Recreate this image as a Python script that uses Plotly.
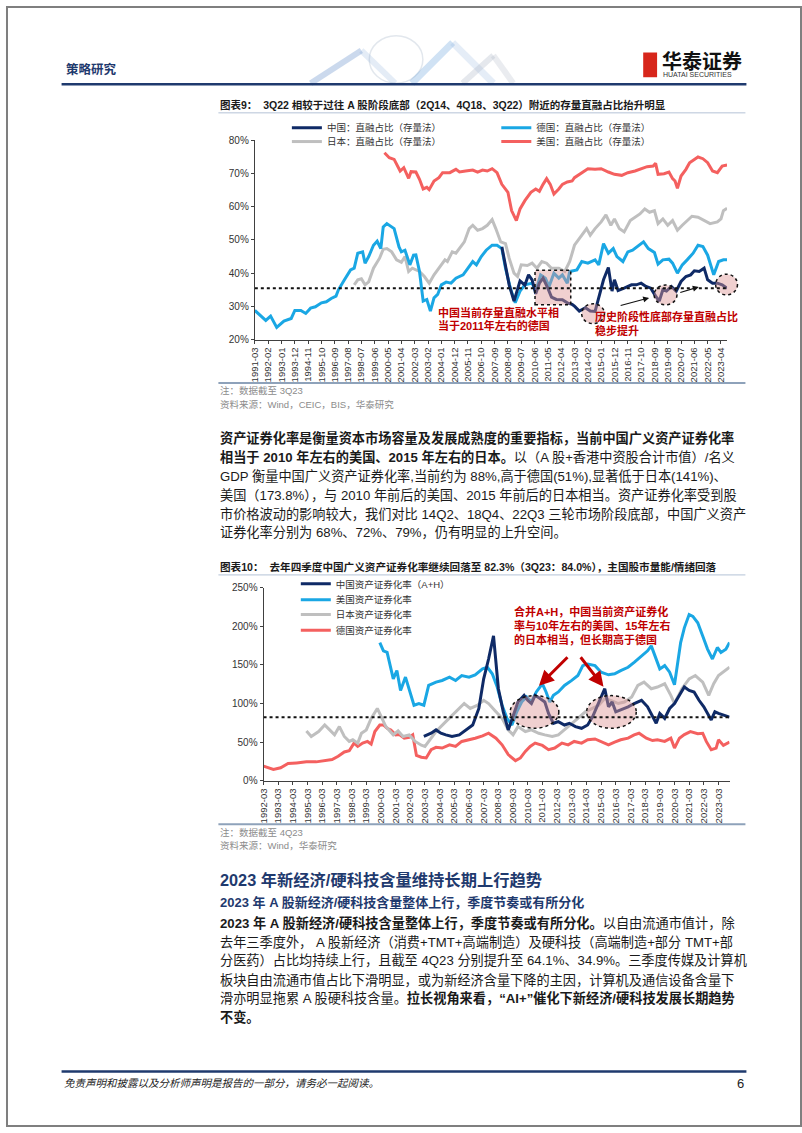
import plotly.graph_objects as go

W, H = 802, 1133
FONT = "Liberation Sans, Noto Sans CJK SC, sans-serif"

# ---------------- 图表9: 直融占比（存量法）, % ----------------
CN_DIRECT = [("2008-03", 47.9), ("2008-06", 42.5), ("2008-09", 36.5), ("2009-01", 31.6), ("2009-04", 35.0),
             ("2009-06", 37.7), ("2009-10", 36.4), ("2010-01", 39.5), ("2010-04", 38.0), ("2010-07", 33.8),
             ("2010-10", 37.0), ("2011-01", 38.5), ("2011-05", 35.5), ("2011-08", 32.8), ("2011-12", 32.1),
             ("2012-05", 32.0), ("2012-09", 31.1), ("2013-01", 30.6), ("2013-03", 30.1), ("2013-07", 28.6),
             ("2013-12", 29.6), ("2014-04", 28.6), ("2014-08", 28.5), ("2014-12", 33.6), ("2015-03", 38.0),
             ("2015-07", 41.7), ("2015-10", 34.6), ("2015-12", 38.0), ("2016-03", 34.8), ("2016-08", 35.5),
             ("2017-02", 36.5), ("2017-06", 36.5), ("2017-10", 37.0), ("2018-02", 36.0), ("2018-06", 35.5),
             ("2018-10", 33.1), ("2019-01", 31.6), ("2019-04", 35.0), ("2019-07", 34.6), ("2019-11", 36.0),
             ("2020-03", 34.6), ("2020-07", 37.5), ("2020-11", 39.0), ("2021-03", 39.5), ("2021-06", 40.7),
             ("2021-10", 40.5), ("2022-02", 41.5), ("2022-05", 38.0), ("2022-09", 37.0), ("2023-01", 37.0),
             ("2023-05", 36.5), ("2023-09", 35.5)]
DE_DIRECT = [("1991-03", 28.8), ("1991-12", 25.8), ("1992-04", 27.1), ("1992-09", 23.7), ("1993-03", 25.6),
             ("1993-09", 26.4), ("1993-12", 28.8), ("1994-05", 28.8), ("1994-09", 27.9), ("1995-01", 29.5),
             ("1995-05", 29.9), ("1995-10", 31.1), ("1996-02", 31.4), ("1996-06", 32.4), ("1996-10", 33.1),
             ("1996-12", 35.0), ("1997-05", 38.0), ("1997-10", 41.0), ("1998-01", 41.5), ("1998-04", 46.0),
             ("1998-08", 46.4), ("1998-10", 43.0), ("1999-01", 45.0), ("1999-05", 48.4), ("1999-08", 49.6),
             ("1999-11", 47.4), ("2000-01", 53.9), ("2000-04", 54.9), ("2000-10", 53.4), ("2001-02", 47.9),
             ("2001-04", 46.4), ("2001-07", 46.9), ("2001-11", 42.5), ("2002-02", 45.4), ("2002-04", 45.5),
             ("2002-07", 40.5), ("2002-10", 31.6), ("2003-01", 32.1), ("2003-04", 28.6), ("2003-07", 32.6),
             ("2003-10", 33.6), ("2004-01", 36.5), ("2004-05", 37.3), ("2004-09", 37.0), ("2005-01", 38.5),
             ("2005-07", 39.5), ("2005-11", 41.5), ("2006-03", 43.5), ("2006-06", 42.5), ("2006-10", 45.0),
             ("2007-02", 46.9), ("2007-07", 48.4), ("2007-11", 48.4), ("2008-03", 47.4), ("2008-06", 41.5),
             ("2008-10", 35.5), ("2009-02", 31.1), ("2009-06", 34.6), ("2009-10", 36.5), ("2010-04", 37.0),
             ("2010-07", 34.6), ("2010-11", 39.5), ("2011-03", 38.5), ("2011-06", 36.0), ("2011-10", 40.0),
             ("2012-02", 38.5), ("2012-05", 39.5), ("2012-09", 37.0), ("2012-11", 40.5), ("2013-05", 41.0),
             ("2013-09", 43.5), ("2014-02", 43.0), ("2014-08", 44.0), ("2014-11", 42.5), ("2015-03", 48.9),
             ("2015-07", 46.0), ("2015-11", 47.4), ("2016-02", 45.0), ("2016-07", 43.5), ("2016-11", 46.4),
             ("2017-03", 46.9), ("2017-09", 48.4), ("2017-12", 49.4), ("2018-04", 47.4), ("2018-09", 46.2),
             ("2018-12", 42.7), ("2019-04", 44.0), ("2019-09", 44.2), ("2019-12", 43.0), ("2020-04", 40.0),
             ("2020-08", 42.5), ("2020-12", 44.0), ("2021-05", 46.0), ("2021-09", 48.4), ("2022-01", 48.0),
             ("2022-05", 45.4), ("2022-10", 39.5), ("2023-02", 43.5), ("2023-06", 44.0), ("2023-09", 44.0)]
JP_DIRECT = [("1998-01", 36.5), ("1998-04", 38.0), ("1998-07", 38.3), ("1998-10", 36.5), ("1999-01", 37.4),
             ("1999-05", 41.5), ("1999-10", 44.5), ("2000-01", 47.2), ("2000-04", 47.4), ("2000-08", 46.4),
             ("2000-12", 44.0), ("2001-04", 43.3), ("2001-07", 45.0), ("2001-10", 40.5), ("2002-01", 41.5),
             ("2002-07", 40.5), ("2002-11", 39.0), ("2003-03", 37.0), ("2003-07", 39.5), ("2003-11", 41.5),
             ("2004-04", 44.0), ("2004-06", 43.5), ("2004-10", 46.4), ("2005-01", 46.0), ("2005-05", 48.0),
             ("2005-08", 49.4), ("2005-12", 53.4), ("2006-03", 54.4), ("2006-07", 52.9), ("2006-11", 53.4),
             ("2007-03", 54.4), ("2007-07", 56.1), ("2007-10", 53.4), ("2008-02", 49.4), ("2008-06", 48.9),
             ("2008-09", 44.5), ("2009-01", 40.0), ("2009-04", 39.0), ("2009-07", 42.5), ("2009-12", 42.3),
             ("2010-04", 43.0), ("2010-08", 41.5), ("2010-12", 43.5), ("2011-04", 43.0), ("2011-08", 41.5),
             ("2012-02", 41.5), ("2012-07", 40.5), ("2012-11", 43.5), ("2013-03", 48.4), ("2013-09", 51.4),
             ("2014-01", 53.4), ("2014-04", 51.4), ("2014-08", 53.4), ("2015-01", 55.4), ("2015-05", 57.5),
             ("2015-09", 54.4), ("2015-12", 56.3), ("2016-04", 53.4), ("2016-08", 52.4), ("2017-01", 55.8),
             ("2017-05", 56.8), ("2017-09", 57.8), ("2018-01", 59.3), ("2018-05", 58.3), ("2018-09", 58.8),
             ("2018-12", 54.9), ("2019-04", 56.3), ("2019-08", 54.4), ("2019-12", 55.8), ("2020-04", 52.9),
             ("2020-08", 54.4), ("2020-12", 55.8), ("2021-04", 57.1), ("2021-09", 56.8), ("2022-02", 55.8),
             ("2022-07", 54.9), ("2023-01", 55.4), ("2023-04", 56.3), ("2023-06", 58.8), ("2023-09", 59.5)]
US_DIRECT = [("2000-02", 76.2), ("2000-06", 74.7), ("2000-10", 74.2), ("2001-03", 70.7), ("2001-06", 71.7),
             ("2001-10", 68.5), ("2001-12", 70.5), ("2002-04", 70.4), ("2002-07", 68.2), ("2002-10", 65.3),
             ("2003-01", 65.8), ("2003-03", 65.1), ("2003-07", 67.7), ("2003-11", 68.7), ("2004-02", 70.2),
             ("2004-08", 70.2), ("2005-01", 71.2), ("2005-04", 70.4), ("2005-09", 70.7), ("2006-03", 71.0),
             ("2006-07", 70.4), ("2006-11", 71.0), ("2007-03", 70.7), ("2007-07", 71.4), ("2007-11", 70.2),
             ("2008-03", 66.7), ("2008-08", 64.3), ("2008-11", 58.8), ("2009-03", 55.8), ("2009-06", 59.3),
             ("2009-10", 61.8), ("2010-03", 64.3), ("2010-07", 65.3), ("2010-10", 64.6), ("2011-01", 66.7),
             ("2011-04", 68.4), ("2011-07", 66.7), ("2011-10", 63.8), ("2012-02", 65.3), ("2012-05", 66.7),
             ("2012-09", 67.4), ("2013-01", 67.7), ("2013-03", 68.7), ("2013-09", 70.2), ("2014-02", 71.4),
             ("2014-08", 71.2), ("2015-01", 71.4), ("2015-07", 70.4), ("2015-12", 69.7), ("2016-06", 69.4),
             ("2016-11", 70.2), ("2017-05", 70.7), ("2017-10", 71.4), ("2018-03", 72.0), ("2018-08", 72.2),
             ("2018-10", 73.0), ("2018-12", 69.7), ("2019-05", 69.9), ("2019-09", 70.4), ("2019-12", 68.4),
             ("2020-02", 67.7), ("2020-04", 65.5), ("2020-07", 69.2), ("2020-11", 71.2), ("2021-02", 73.2),
             ("2021-06", 74.2), ("2021-09", 74.9), ("2022-01", 74.4), ("2022-05", 73.2), ("2022-09", 70.7),
             ("2023-01", 70.2), ("2023-05", 72.2), ("2023-09", 72.5)]
CN_DIRECT_NOW = 35.5
X1_TICKS = ["1991-03", "1992-02", "1993-01", "1993-12", "1994-11", "1995-10", "1996-09", "1997-08",
            "1998-07", "1999-06", "2000-05", "2001-04", "2002-03", "2003-02", "2004-01", "2004-12",
            "2005-11", "2006-10", "2007-09", "2008-08", "2009-07", "2010-06", "2011-05", "2012-04",
            "2013-03", "2014-02", "2015-01", "2015-12", "2016-11", "2017-10", "2018-09", "2019-08",
            "2020-07", "2021-06", "2022-05", "2023-04"]

# ---------------- 图表10: 资产证券化率, % ----------------
CN_SEC = [("2003-02", 57.3), ("2003-08", 61.5), ("2003-12", 65.8), ("2004-04", 61.5), ("2004-08", 59.4),
          ("2005-01", 57.3), ("2005-07", 59.4), ("2005-12", 65.8), ("2006-06", 72.2), ("2006-11", 93.6),
          ("2007-03", 132.0), ("2007-07", 157.7), ("2007-11", 187.6), ("2008-03", 119.2), ("2008-07", 89.3),
          ("2008-11", 65.8), ("2009-03", 82.9), ("2009-07", 102.0), ("2009-12", 110.6), ("2010-03", 104.2),
          ("2010-06", 100.0), ("2010-09", 110.6), ("2011-01", 106.4), ("2011-05", 102.0), ("2011-08", 87.2),
          ("2011-12", 74.4), ("2012-04", 76.5), ("2012-09", 72.2), ("2013-01", 74.4), ("2013-06", 70.1),
          ("2013-11", 67.9), ("2014-04", 72.2), ("2014-08", 82.9), ("2014-12", 97.8), ("2015-06", 119.2),
          ("2015-09", 95.8), ("2015-12", 102.0), ("2016-03", 89.3), ("2016-07", 91.5), ("2017-01", 95.8),
          ("2017-06", 100.0), ("2017-12", 104.2), ("2018-05", 95.8), ("2018-12", 74.4), ("2019-03", 87.2),
          ("2019-07", 80.8), ("2019-11", 93.6), ("2020-03", 100.0), ("2020-07", 110.6), ("2020-11", 121.4),
          ("2021-03", 117.0), ("2021-07", 115.0), ("2021-11", 104.2), ("2022-03", 95.8), ("2022-09", 78.7),
          ("2022-12", 89.3), ("2023-03", 87.2), ("2023-06", 85.1), ("2023-09", 84.0), ("2023-12", 82.3)]
US_SEC = [("2000-02", 179.0), ("2000-05", 168.3), ("2000-08", 166.2), ("2001-01", 132.0), ("2001-04", 142.7),
          ("2001-07", 117.0), ("2001-11", 134.2), ("2002-03", 112.8), ("2002-06", 97.8), ("2002-10", 100.0),
          ("2003-02", 97.8), ("2003-06", 123.5), ("2003-12", 127.8), ("2004-05", 129.9), ("2004-11", 134.2),
          ("2005-04", 129.9), ("2005-09", 136.3), ("2006-03", 134.2), ("2006-08", 137.2), ("2007-02", 144.9),
          ("2007-06", 147.0), ("2007-10", 138.5), ("2008-02", 121.4), ("2008-06", 97.8), ("2008-10", 80.8),
          ("2009-02", 72.2), ("2009-06", 89.3), ("2009-10", 102.0), ("2010-02", 108.5), ("2010-06", 102.0),
          ("2010-10", 115.0), ("2011-03", 125.6), ("2011-06", 115.0), ("2011-09", 102.0), ("2011-12", 110.6),
          ("2012-04", 115.0), ("2012-09", 123.5), ("2013-03", 130.0), ("2013-08", 136.3), ("2013-12", 149.1),
          ("2014-04", 151.3), ("2014-10", 149.1), ("2015-03", 140.6), ("2015-09", 137.2), ("2016-02", 138.5),
          ("2016-07", 142.7), ("2017-01", 147.0), ("2017-06", 153.4), ("2017-12", 162.0), ("2018-05", 168.3),
          ("2018-08", 174.7), ("2018-12", 157.7), ("2019-03", 144.9), ("2019-07", 149.1), ("2019-11", 140.6),
          ("2020-03", 124.4), ("2020-05", 144.9), ("2020-08", 179.0), ("2020-11", 198.1), ("2021-03", 215.4),
          ("2021-06", 213.0), ("2021-10", 204.7), ("2022-02", 187.6), ("2022-06", 170.5), ("2022-10", 157.7),
          ("2023-02", 172.6), ("2023-05", 166.2), ("2023-09", 170.5), ("2023-12", 179.0)]
JP_SEC = [("1995-02", 64.5), ("1995-06", 57.3), ("1995-12", 63.7), ("1996-05", 72.2), ("1996-09", 65.8),
          ("1997-01", 59.4), ("1997-05", 70.1), ("1997-09", 57.3), ("1998-01", 50.9), ("1998-04", 53.0),
          ("1998-08", 48.7), ("1998-11", 61.5), ("1999-03", 65.8), ("1999-07", 80.8), ("1999-12", 93.6),
          ("2000-03", 82.9), ("2000-07", 70.1), ("2001-01", 59.4), ("2001-05", 64.5), ("2001-09", 57.3),
          ("2002-02", 59.4), ("2002-07", 50.9), ("2002-12", 46.0), ("2003-03", 44.4), ("2003-12", 63.7),
          ("2004-08", 76.5), ("2005-04", 89.3), ("2005-11", 100.0), ("2006-04", 93.6), ("2006-10", 97.8),
          ("2007-03", 104.2), ("2007-07", 100.0), ("2008-01", 89.3), ("2008-06", 80.8), ("2008-11", 65.8),
          ("2009-03", 59.4), ("2009-07", 70.1), ("2010-01", 63.7), ("2010-06", 65.8), ("2010-12", 61.5),
          ("2011-05", 59.4), ("2011-11", 57.3), ("2012-04", 59.4), ("2012-09", 65.8), ("2013-03", 74.4),
          ("2013-08", 80.8), ("2014-02", 89.3), ("2014-07", 93.6), ("2015-01", 97.8), ("2015-06", 106.4),
          ("2015-11", 104.2), ("2016-05", 100.0), ("2016-10", 102.0), ("2017-04", 108.5), ("2017-09", 123.5),
          ("2018-02", 127.8), ("2018-08", 119.2), ("2019-01", 121.4), ("2019-07", 125.6), ("2019-12", 110.6),
          ("2020-03", 100.0), ("2020-09", 119.2), ("2021-03", 132.0), ("2021-08", 136.3), ("2022-02", 127.8),
          ("2022-07", 110.6), ("2022-11", 125.6), ("2023-03", 136.3), ("2023-07", 140.6), ("2023-12", 147.0)]
DE_SEC = [("1992-03", 18.8), ("1992-11", 14.5), ("1993-05", 16.7), ("1993-11", 22.2), ("1994-06", 23.1),
          ("1995-02", 24.4), ("1995-10", 24.4), ("1996-05", 26.0), ("1996-11", 27.4), ("1997-04", 31.6),
          ("1997-09", 37.2), ("1998-01", 38.9), ("1998-05", 48.7), ("1998-08", 44.4), ("1998-12", 48.7),
          ("1999-04", 50.9), ("1999-07", 47.4), ("1999-10", 63.7), ("2000-02", 72.2), ("2000-05", 72.2),
          ("2000-08", 67.9), ("2000-11", 65.8), ("2001-03", 59.4), ("2001-06", 59.8), ("2001-10", 55.1),
          ("2002-02", 56.3), ("2002-05", 59.4), ("2002-08", 32.7), ("2002-12", 30.5), ("2003-04", 29.5),
          ("2003-08", 40.2), ("2003-12", 43.2), ("2004-05", 42.3), ("2004-11", 46.5), ("2005-04", 44.4),
          ("2005-09", 50.9), ("2006-03", 53.0), ("2006-08", 55.1), ("2007-02", 58.1), ("2007-07", 61.5),
          ("2008-01", 55.1), ("2008-06", 46.5), ("2008-11", 33.8), ("2009-05", 26.0), ("2009-09", 29.5),
          ("2010-01", 38.0), ("2010-05", 44.4), ("2010-09", 48.7), ("2011-03", 45.7), ("2011-08", 40.2),
          ("2012-01", 42.3), ("2012-07", 48.7), ("2012-12", 46.5), ("2013-05", 50.9), ("2013-11", 48.7),
          ("2014-04", 53.0), ("2014-10", 54.1), ("2015-03", 50.9), ("2015-09", 46.5), ("2016-02", 50.0),
          ("2016-07", 53.0), ("2017-01", 55.1), ("2017-06", 59.4), ("2017-10", 61.5), ("2018-04", 55.1),
          ("2018-09", 52.0), ("2019-01", 53.0), ("2019-07", 50.9), ("2019-12", 55.1), ("2020-03", 42.3),
          ("2020-07", 55.1), ("2020-11", 59.8), ("2021-04", 63.7), ("2021-10", 61.0), ("2022-02", 61.5),
          ("2022-05", 50.9), ("2022-09", 40.2), ("2023-01", 42.3), ("2023-03", 53.0), ("2023-07", 45.7),
          ("2023-12", 50.0)]
CN_SEC_NOW = 82.3
X2_TICKS = [f"{y}-03" for y in range(1992, 2024)]

NAVY = "#0F2A66"
SKY = "#1AA7E4"
GREY = "#BFBFBF"
CORAL = "#F4605F"
DARK_RED = "#C00000"
HEAD_BLUE = "#1F3A6E"
BODY = 13.2


def px(x):
    return x / W


def py(y):
    return 1 - y / H


fig = go.Figure()


def add_series(data, name, color, xa, ya, legend):
    fig.add_trace(go.Scatter(
        x=[d for d, _ in data], y=[v for _, v in data], mode="lines", name=name,
        line=dict(color=color, width=3), xaxis=xa, yaxis=ya, legend=legend, hoverinfo="skip"))


# chart 9 (draw order: grey, red, sky, navy)
add_series(JP_DIRECT, "日本：直融占比（存量法）", GREY, "x", "y", "legend3")
add_series(US_DIRECT, "美国：直融占比（存量法）", CORAL, "x", "y", "legend4")
add_series(DE_DIRECT, "德国：直融占比（存量法）", SKY, "x", "y", "legend2")
add_series(CN_DIRECT, "中国：直融占比（存量法）", NAVY, "x", "y", "legend")

# chart 10
add_series(DE_SEC, "德国资产证券化率", CORAL, "x2", "y2", "legend8")
add_series(JP_SEC, "日本资产证券化率", GREY, "x2", "y2", "legend7")
add_series(US_SEC, "美国资产证券化率", SKY, "x2", "y2", "legend6")
add_series(CN_SEC, "中国资产证券化率（A+H）", NAVY, "x2", "y2", "legend5")

annotations = []


def text(x, y, s, size=BODY, color="#1a1a1a", anchor="left"):
    annotations.append(dict(x=px(x), y=py(y), xref="paper", yref="paper", text=s, showarrow=False,
                            xanchor=anchor, yanchor="middle",
                            font=dict(size=size, color=color, family=FONT)))


def arrow(x_head, y_head, x_tail, y_tail, color, width):
    annotations.append(dict(x=px(x_head), y=py(y_head), xref="paper", yref="paper", text="",
                            showarrow=True, ax=x_tail - x_head, ay=y_tail - y_head,
                            arrowhead=2, arrowsize=1, arrowwidth=width, arrowcolor=color))


# header / footer
text(58, 64, "<b>策略研究</b>", size=12.5, color=HEAD_BLUE)
text(659, 57, "<b>华泰证券</b>", size=20, color="#111")
text(660, 69, "HUATAI SECURITIES", size=7, color="#333")
text(56, 1089, "<i>免责声明和披露以及分析师声明是报告的一部分，请务必一起阅读。</i>", size=10.5, color="#222")
text(746, 1089, "6", size=13, color="#222", anchor="right")

# chart titles and notes
text(214, 100, "<b>图表9：  3Q22 相较于过往 A 股阶段底部（2Q14、4Q18、3Q22）附近的存量直融占比抬升明显</b>", size=10.5)
text(214, 389, "注：数据截至 3Q23", size=9.5, color="#8c8c8c")
text(214, 403, "资料来源：Wind，CEIC，BIS，华泰研究", size=9.5, color="#8c8c8c")
text(214, 567, "<b>图表10：  去年四季度中国广义资产证券化率继续回落至 82.3%（3Q23：84.0%），主国股市量能/情绪回落</b>", size=10.6)
text(214, 835, "注：数据截至 4Q23", size=9.5, color="#8c8c8c")
text(214, 848, "资料来源：Wind，华泰研究", size=9.5, color="#8c8c8c")

# chart callouts
text(433, 310, "<b>中国当前存量直融水平相</b>", size=11, color=DARK_RED)
text(433, 323, "<b>当于2011年左右的德国</b>", size=11, color=DARK_RED)
text(591, 314, "<b>历史阶段性底部存量直融占比</b>", size=11, color=DARK_RED)
text(591, 328, "<b>稳步提升</b>", size=11, color=DARK_RED)
text(510, 612, "<b>合并A+H，中国当前资产证券化</b>", size=11, color=DARK_RED)
text(510, 626, "<b>率与10年左右的美国、15年左右</b>", size=11, color=DARK_RED)
text(510, 640, "<b>的日本相当，但长期高于德国</b>", size=11, color=DARK_RED)
arrow(648, 295, 618, 303, "#111", 1.2)
arrow(698, 284, 678, 290, "#111", 1.2)
arrow(537, 687, 567, 657, DARK_RED, 3)
arrow(602, 688, 578, 657, DARK_RED, 3)

# body text
P1 = ["<b>资产证券化率是衡量资本市场容量及发展成熟度的重要指标，当前中国广义资产证券化率</b>",
      "<b>相当于 2010 年左右的美国、2015 年左右的日本。</b>以（A 股+香港中资股合计市值）/名义",
      "GDP 衡量中国广义资产证券化率,当前约为 88%,高于德国(51%),显著低于日本(141%)、",
      "美国（173.8%），与 2010 年前后的美国、2015 年前后的日本相当。资产证券化率受到股",
      "市价格波动的影响较大，我们对比 14Q2、18Q4、22Q3 三轮市场阶段底部，中国广义资产",
      "证券化率分别为 68%、72%、79%，仍有明显的上升空间。"]
for i, line in enumerate(P1):
    text(214, 437 + 19 * i, line)

text(214, 883, "<b>2023 年新经济/硬科技含量维持长期上行趋势</b>", size=16.3, color=HEAD_BLUE)
text(214, 906, "<b>2023 年 A 股新经济/硬科技含量整体上行，季度节奏或有所分化</b>", size=13, color=HEAD_BLUE)
P2 = ["<b>2023 年 A 股新经济/硬科技含量整体上行，季度节奏或有所分化。</b>以自由流通市值计，除",
      "去年三季度外， A 股新经济（消费+TMT+高端制造）及硬科技（高端制造+部分 TMT+部",
      "分医药）占比均持续上行，且截至 4Q23 分别提升至 64.1%、34.9%。三季度传媒及计算机",
      "板块自由流通市值占比下滑明显，或为新经济含量下降的主因，计算机及通信设备含量下",
      "滑亦明显拖累 A 股硬科技含量。<b>拉长视角来看，“AI+”催化下新经济/硬科技发展长期趋势</b>",
      "<b>不变。</b>"]
for i, line in enumerate(P2):
    text(214, 927 + 19 * i, line)

shapes = []


def hline(x0, x1, y, color, width, dash="solid"):
    shapes.append(dict(type="line", xref="paper", yref="paper", x0=px(x0), x1=px(x1), y0=py(y), y1=py(y),
                       line=dict(color=color, width=width, dash=dash)))


def seg(x0, y0, x1, y1, color, width):
    shapes.append(dict(type="line", xref="paper", yref="paper", x0=px(x0), x1=px(x1), y0=py(y0), y1=py(y1),
                       line=dict(color=color, width=width), layer="below"))


def blob(kind, x0, y0, x1, y1):
    shapes.append(dict(type=kind, xref="paper", yref="paper", x0=px(x0), x1=px(x1), y0=py(y1), y1=py(y0),
                       fillcolor="rgba(222,150,150,0.45)", line=dict(color="#111", width=1.5, dash="dot")))


# page frame and rules
shapes.append(dict(type="rect", xref="paper", yref="paper", x0=px(1), x1=px(801), y0=py(1132), y1=py(1),
                   line=dict(color="#7f7f7f", width=2)))
hline(56, 746, 79, HEAD_BLUE, 2.5)
hline(56, 746, 1077, HEAD_BLUE, 2.5)
hline(214, 745, 108, "#b4c3d6", 1)
hline(214, 745, 575, "#b4c3d6", 1)
hline(214, 745, 381, "#8ea2ba", 2)
hline(214, 745, 827, "#8ea2ba", 2)

# faint header artwork
shapes.append(dict(type="circle", xref="paper", yref="paper", x0=px(366), x1=px(420), y0=py(78), y1=py(30),
                   line=dict(color="rgba(160,175,195,0.3)", width=1.5), layer="below"))
seg(307, 78, 358, 45, "rgba(70,120,190,0.28)", 6)
seg(358, 45, 392, 78, "rgba(120,160,210,0.2)", 6)
seg(409, 78, 450, 37, "rgba(110,165,220,0.32)", 7)
seg(450, 37, 491, 78, "rgba(150,185,225,0.25)", 7)
seg(460, 78, 491, 50, "rgba(170,180,195,0.3)", 6)
seg(491, 50, 511, 78, "rgba(170,180,195,0.25)", 6)

# logo mark
shapes.append(dict(type="rect", xref="paper", yref="paper", x0=px(642), x1=px(656), y0=py(72), y1=py(47),
                   fillcolor="#d7261b", line=dict(width=0)))
seg(645, 52, 649, 58, "white", 1.5)
seg(653, 52, 649, 58, "white", 1.5)
seg(649, 58, 649, 70, "white", 1.5)
seg(645, 62, 645, 70, "white", 1.2)
seg(653, 62, 653, 70, "white", 1.2)

# highlight regions
blob("rect", 533, 267, 569, 302)
blob("circle", 580, 301, 603, 321)
blob("circle", 653, 282, 676, 302)
blob("circle", 715, 271, 737, 292)
blob("circle", 508, 697, 557, 730)
blob("circle", 585, 697, 635, 730)

# current-level dotted references
shapes.append(dict(type="line", xref="x", yref="y", x0=X1_TICKS[0], x1=CN_DIRECT[-1][0],
                   y0=CN_DIRECT_NOW, y1=CN_DIRECT_NOW, line=dict(color="#111", width=2, dash="dot")))
shapes.append(dict(type="line", xref="x2", yref="y2", x0=X2_TICKS[0], x1=CN_SEC[-1][0],
                   y0=CN_SEC_NOW, y1=CN_SEC_NOW, line=dict(color="#111", width=2, dash="dot")))

axis_common = dict(showgrid=False, zeroline=False, showline=True, linecolor="#404040", linewidth=1,
                   ticks="outside", ticklen=3, tickcolor="#404040",
                   tickfont=dict(size=10, color="#333", family=FONT))


def leg(x, y):
    return dict(x=px(x), y=py(y), xanchor="left", yanchor="middle", orientation="h",
                bgcolor="rgba(0,0,0,0)", borderwidth=0, tracegroupgap=0,
                font=dict(size=9.5, color="#333", family=FONT))


fig.update_layout(
    width=W, height=H, margin=dict(l=0, r=0, t=0, b=0), autosize=False,
    paper_bgcolor="white", plot_bgcolor="white", showlegend=True,
    font=dict(family=FONT),
    xaxis=dict(axis_common, type="date", domain=[px(250.7), px(726.5)], range=["1991-03", "2023-09"],
               tickmode="array", tickvals=X1_TICKS, ticktext=X1_TICKS, tickangle=-90,
               tickfont=dict(size=9.5, color="#333", family=FONT), anchor="y"),
    yaxis=dict(axis_common, domain=[py(337.3), py(135.5)], range=[20, 80], dtick=10, ticksuffix="%",
               anchor="x"),
    xaxis2=dict(axis_common, type="date", domain=[px(259.5), px(729)], range=["1992-03", "2023-12"],
                tickmode="array", tickvals=X2_TICKS, ticktext=X2_TICKS, tickangle=-90,
                tickfont=dict(size=9.5, color="#333", family=FONT), anchor="y2"),
    yaxis2=dict(axis_common, domain=[py(783), py(588)], range=[0, 250], dtick=50, ticksuffix="%",
                anchor="x2"),
    legend=leg(283, 123), legend2=leg(494, 123), legend3=leg(283, 137), legend4=leg(494, 137),
    legend5=leg(292, 584), legend6=leg(292, 600), legend7=leg(292, 615), legend8=leg(292, 631),
    annotations=annotations, shapes=shapes,
)

fig.write_html("out.html", config={"displayModeBar": False},
               post_script="document.body.style.margin='0';document.body.style.overflow='hidden';")
